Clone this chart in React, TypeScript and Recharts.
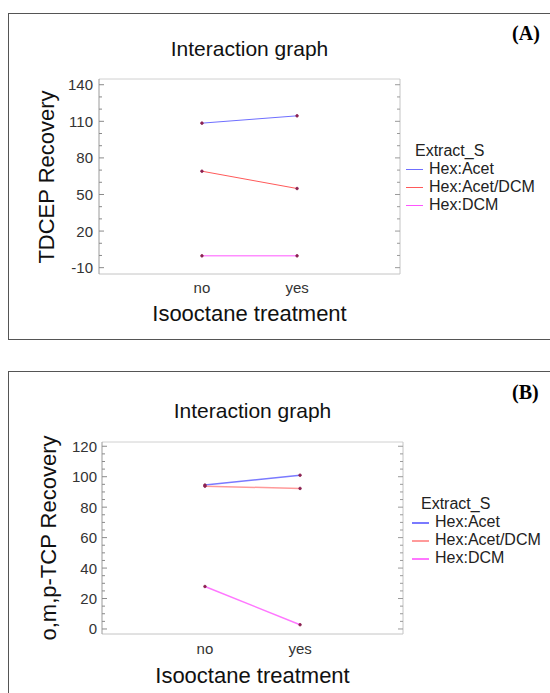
import React from 'react'
import { LineChart, Line, XAxis, YAxis, ReferenceLine } from 'recharts'

// Isooctane treatment levels
const treatments = ['no', 'yes']

// Panel A: TDCEP recovery
const tdcepAcet = [108.5, 114.5]
const tdcepAcetDcm = [69.1, 54.9]
const tdcepDcm = [-0.3, -0.3]
const tdcepTicks = [-10, 0, 10, 20, 30, 40, 50, 60, 70, 80, 90, 100, 110, 120, 130, 140]
const tdcepLabels = [-10, 20, 50, 80, 110, 140]

// Panel B: o,m,p-TCP recovery
const tcpAcet = [94.5, 101]
const tcpAcetDcm = [93.8, 92.3]
const tcpDcm = [27.9, 2.8]
const tcpTicks = [0, 5, 10, 15, 20, 25, 30, 35, 40, 45, 50, 55, 60, 65, 70, 75, 80, 85, 90, 95, 100, 105, 110, 115, 120]
const tcpLabels = [0, 20, 40, 60, 80, 100, 120]

const seriesNames = ['Hex:Acet', 'Hex:Acet/DCM', 'Hex:DCM']

const FONT = '"Liberation Sans", Arial, sans-serif'

interface PanelProps {
  letter: string
  yTitle: string
  values: number[][]
  colors: string[]
  lineWidth: number
  domain: [number, number]
  ticks: number[]
  labels: number[]
  frameTop: number
  chartTop: number
  chartHeight: number
  plot: { left: number; right: number; top: number; bottom: number }
  tickLabelRight: number
  xTickY: number
  titleY: number
  xTitleY: number
  yTitleX: number
  legend: { x: number; y: number; lineX: number; textX: number; rowGap: number }
  letterY: number
}

function Panel(p: PanelProps) {
  const rows = treatments.map((t, i) => ({
    treat: t,
    s0: p.values[0][i],
    s1: p.values[1][i],
    s2: p.values[2][i]
  }))
  const plotW = p.plot.right - p.plot.left
  const plotCx = (p.plot.left + p.plot.right) / 2
  const xAxisH = 30
  const yAxisW = 60

  const LeftTick = ({ y, payload }: any) => {
    const major = p.labels.includes(payload.value)
    return (
      <g>
        <line x1={p.plot.left} x2={p.plot.left + (major ? 5 : 3)} y1={y} y2={y} stroke="#8a8a8a" />
        {major && (
          <text x={p.tickLabelRight} y={y} textAnchor="end" dominantBaseline="central"
            fontSize={15} fontFamily={FONT} fill="#333">
            {payload.value}
          </text>
        )}
      </g>
    )
  }

  const RightTick = ({ y, payload }: any) => {
    const major = p.labels.includes(payload.value)
    return (
      <line x1={p.plot.right} x2={p.plot.right - (major ? 5 : 3)} y1={y} y2={y} stroke="#9a9a9a" />
    )
  }

  const XTick = ({ x, payload }: any) => (
    <text x={x} y={p.xTickY} textAnchor="middle" dominantBaseline="central"
      fontSize={15} fontFamily={FONT} fill="#333">
      {payload.value}
    </text>
  )

  const pad = plotW * 0.342

  return (
    <>
      <div style={{
        position: 'absolute', left: 8, top: p.frameTop, width: 620, height: 327,
        border: '1px solid #555', boxSizing: 'border-box'
      }} />
      <div style={{
        position: 'absolute', left: 512, top: p.letterY, transform: 'translateY(-50%)',
        fontFamily: '"Liberation Serif", "Times New Roman", serif', fontWeight: 'bold', fontSize: 20
      }}>
        ({p.letter})
      </div>
      <div style={{
        position: 'absolute', left: plotCx, top: p.titleY, transform: 'translate(-50%, -50%)',
        fontFamily: FONT, fontSize: 21, color: '#111', whiteSpace: 'nowrap'
      }}>
        Interaction graph
      </div>
      <div style={{
        position: 'absolute', left: plotCx, top: p.xTitleY, transform: 'translate(-50%, -50%)',
        fontFamily: FONT, fontSize: 22, color: '#111', whiteSpace: 'nowrap'
      }}>
        Isooctane treatment
      </div>
      <div style={{
        position: 'absolute', left: p.yTitleX, top: (p.plot.top + p.plot.bottom) / 2,
        transform: 'translate(-50%, -50%) rotate(-90deg)',
        fontFamily: FONT, fontSize: 22, color: '#111', whiteSpace: 'nowrap'
      }}>
        {p.yTitle}
      </div>
      <div style={{ position: 'absolute', left: 0, top: p.chartTop }}>
        <LineChart
          width={550}
          height={p.chartHeight}
          data={rows}
          margin={{
            top: p.plot.top - p.chartTop,
            right: 550 - p.plot.right - 1,
            bottom: p.chartTop + p.chartHeight - p.plot.bottom - xAxisH,
            left: p.plot.left - yAxisW
          }}
        >
          <XAxis
            dataKey="treat"
            height={xAxisH}
            padding={{ left: pad, right: pad }}
            axisLine={false}
            tickLine={false}
            tick={<XTick />}
          />
          <YAxis
            yAxisId="l"
            width={yAxisW}
            type="number"
            domain={p.domain}
            ticks={p.ticks}
            interval={0}
            allowDataOverflow
            axisLine={{ stroke: '#9a9a9a' }}
            tickLine={false}
            tick={<LeftTick />}
          />
          <YAxis
            yAxisId="r"
            orientation="right"
            width={1}
            type="number"
            domain={p.domain}
            ticks={p.ticks}
            interval={0}
            allowDataOverflow
            axisLine={{ stroke: '#c4c4c4' }}
            tickLine={false}
            tick={<RightTick />}
          />
          <ReferenceLine yAxisId="l" y={p.domain[1]} stroke="#d0d0d0" />
          <ReferenceLine yAxisId="l" y={p.domain[0]} stroke="#c4c4c4" />
          {[0, 1, 2].map((k) => (
            <Line
              key={k}
              yAxisId="l"
              type="linear"
              dataKey={'s' + k}
              name={seriesNames[k]}
              stroke={p.colors[k]}
              strokeWidth={p.lineWidth}
              dot={{ r: 1.3, fill: '#8b2252', stroke: '#8b2252', strokeWidth: 0.8 }}
              isAnimationActive={false}
            />
          ))}
        </LineChart>
      </div>
      <div style={{
        position: 'absolute', left: p.legend.x, top: p.legend.y, transform: 'translateY(-50%)',
        fontFamily: FONT, fontSize: 16, color: '#222', whiteSpace: 'nowrap'
      }}>
        Extract_S
      </div>
      {seriesNames.map((name, k) => (
        <React.Fragment key={name}>
          <div style={{
            position: 'absolute', left: p.legend.lineX, width: 17,
            top: Math.round(p.legend.y + p.legend.rowGap * (k + 1)),
            height: Math.max(1, Math.round(p.lineWidth)), background: p.colors[k]
          }} />
          <div style={{
            position: 'absolute', left: p.legend.textX, top: p.legend.y + p.legend.rowGap * (k + 1),
            transform: 'translateY(-50%)',
            fontFamily: FONT, fontSize: 16, color: '#222', whiteSpace: 'nowrap'
          }}>
            {name}
          </div>
        </React.Fragment>
      ))}
    </>
  )
}

export default function App() {
  return (
    <div style={{
      position: 'absolute', left: 0, top: 0, width: 550, height: 693,
      overflow: 'hidden', background: '#fff'
    }}>
      <Panel
        letter="A"
        yTitle="TDCEP Recovery"
        values={[tdcepAcet, tdcepAcetDcm, tdcepDcm]}
        colors={['#6f6fff', '#ff5a5a', '#ff55ff']}
        lineWidth={1}
        domain={[-15.2, 144.7]}
        ticks={tdcepTicks}
        labels={tdcepLabels}
        frameTop={13}
        chartTop={0}
        chartHeight={345}
        plot={{ left: 99, right: 400, top: 79, bottom: 274 }}
        tickLabelRight={93}
        xTickY={287}
        titleY={49}
        xTitleY={314}
        yTitleX={47}
        legend={{ x: 415, y: 151, lineX: 406, textX: 429, rowGap: 18 }}
        letterY={33}
      />
      <Panel
        letter="B"
        yTitle="o,m,p-TCP Recovery"
        values={[tcpAcet, tcpAcetDcm, tcpDcm]}
        colors={['#7a7aff', '#ff9a9a', '#ff77ff']}
        lineWidth={1.5}
        domain={[-3.3, 122.8]}
        ticks={tcpTicks}
        labels={tcpLabels}
        frameTop={371}
        chartTop={345}
        chartHeight={348}
        plot={{ left: 102, right: 403, top: 442, bottom: 634 }}
        tickLabelRight={97}
        xTickY={303}
        titleY={411}
        xTitleY={676}
        yTitleX={49}
        legend={{ x: 421, y: 504, lineX: 412, textX: 435, rowGap: 18 }}
        letterY={392}
      />
    </div>
  )
}
